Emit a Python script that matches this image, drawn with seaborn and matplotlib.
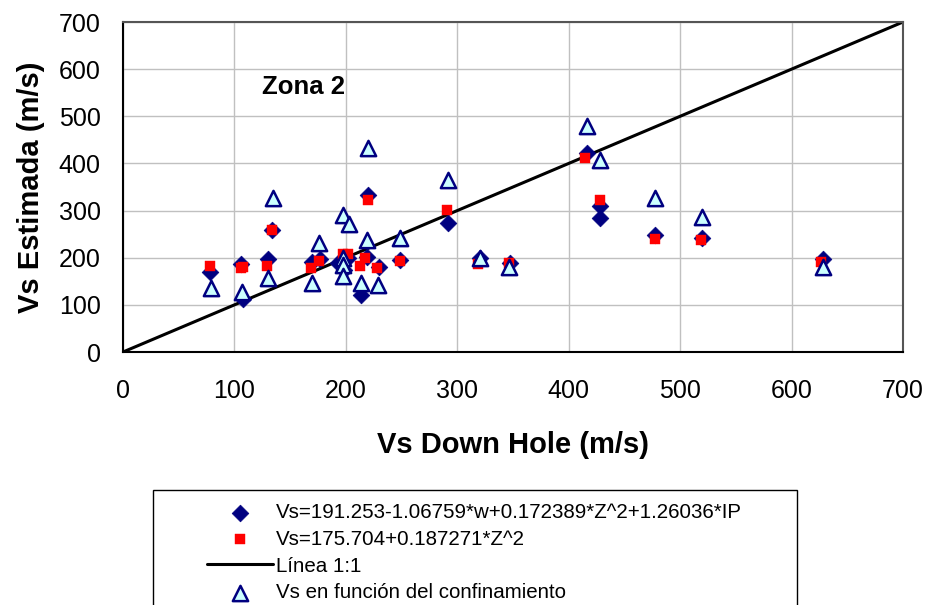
import numpy as np
import pandas as pd
import matplotlib
matplotlib.use("Agg")
import matplotlib.pyplot as plt
from matplotlib.patches import Rectangle
import seaborn as sns

# ---- data ----
dia_x = [78, 106, 108, 130, 134, 170, 177, 193, 198, 202, 214, 219, 220, 230,
         249, 292, 320, 347, 416, 428, 428, 477, 520, 628]
dia_y = [170, 187, 112, 198, 259, 191, 197, 188, 174, 200, 121, 202, 333, 180,
         195, 274, 199, 189, 422, 310, 285, 248, 242, 198]

sq_x = [78, 106, 108, 129, 134, 169, 176, 197, 202, 213, 217, 220, 228,
        249, 291, 319, 346, 415, 428, 477, 519, 626]
sq_y = [182, 178, 180, 182, 259, 178, 193, 208, 208, 182, 199, 322, 178,
        193, 301, 187, 189, 411, 322, 240, 238, 190]

tri_x = [79, 107, 130, 135, 170, 176, 197, 203, 197, 197, 197, 214, 219, 220,
         229, 249, 292, 320, 346, 416, 428, 477, 520, 628]
tri_y = [136, 127, 157, 327, 146, 231, 291, 271, 200, 185, 162, 146, 238, 433,
         142, 242, 365, 199, 181, 480, 407, 327, 286, 181]

line_x = [0, 700]
line_y = [0, 700]

lab_dia = "Vs=191.253-1.06759*w+0.172389*Z^2+1.26036*IP"
lab_sq = "Vs=175.704+0.187271*Z^2"
lab_line = "Línea 1:1"
lab_tri = "Vs en función del confinamiento"

ticks = [0, 100, 200, 300, 400, 500, 600, 700]

# ---- style ----
sns.set_style("white")
plt.rcParams['font.family'] = ['Liberation Sans', 'DejaVu Sans']
plt.rcParams['text.color'] = 'black'
plt.rcParams['axes.labelcolor'] = 'black'

fig = plt.figure(figsize=(9.28, 6.05), dpi=100)
ax = fig.add_axes([123/928, 1-352/605, (903-123)/928, (352-22)/605])

navy = "#000080"

sns.lineplot(x=line_x, y=line_y, ax=ax, color="black", lw=2.2, label=lab_line, zorder=2)
sns.scatterplot(x=dia_x, y=dia_y, ax=ax, marker="D", s=8.5**2, color=navy,
                edgecolor=navy, linewidth=0.5, label=lab_dia, zorder=3)
sns.scatterplot(x=sq_x, y=sq_y, ax=ax, marker="s", s=7.5**2, color="#ff0000",
                edgecolor="#ff0000", linewidth=0.3, label=lab_sq, zorder=4)
sns.scatterplot(x=tri_x, y=tri_y, ax=ax, marker="^", s=11**2, color="#ccffff",
                edgecolor=navy, linewidth=1.8, label=lab_tri, zorder=5)

ax.set_xlim(0, 700)
ax.set_ylim(0, 700)
ax.set_xticks(ticks)
ax.set_yticks(ticks)
ax.grid(True, color="#c0c0c0", lw=1)
ax.set_axisbelow(True)

for s in ["left", "bottom"]:
    ax.spines[s].set_color("black")
    ax.spines[s].set_linewidth(1.5)
for s in ["top", "right"]:
    ax.spines[s].set_color("#555555")
    ax.spines[s].set_linewidth(1.5)

ax.tick_params(axis="both", direction="out", length=7, width=1.2, color="black",
               labelsize=18, labelcolor="black")
ax.tick_params(axis="y", pad=9)
ax.tick_params(axis="x", pad=12.5)

ax.set_xlabel("Vs Down Hole (m/s)", fontsize=21, fontweight="bold", labelpad=20,
              color="black")
ax.set_ylabel("Vs Estimada (m/s)", fontsize=21, fontweight="bold", labelpad=10,
              color="black")

ax.text(125, 563, "Zona 2", fontsize=18.5, fontweight="bold", va="center",
        ha="left", color="black")

# legend
handles, labels = ax.get_legend_handles_labels()
ax.get_legend().remove()
order = [labels.index(l) for l in [lab_dia, lab_sq, lab_line, lab_tri]]
hs = [handles[i] for i in order]
ls = [labels[i] for i in order]
leg = fig.legend(hs, ls, loc="upper left", bbox_to_anchor=(207/928, 1-503/605),
                 frameon=False, fontsize=14.8, borderpad=0, borderaxespad=0,
                 handlelength=3.2, handletextpad=0.15, labelspacing=0.38)
for t in leg.get_texts():
    t.set_color("black")

fig.patches.append(Rectangle((153/928, -0.1), (797-153)/928, 0.1 + 1 - 490/605,
                             transform=fig.transFigure, fill=False,
                             edgecolor="black", lw=1))

fig.savefig("out.png", dpi=100)
